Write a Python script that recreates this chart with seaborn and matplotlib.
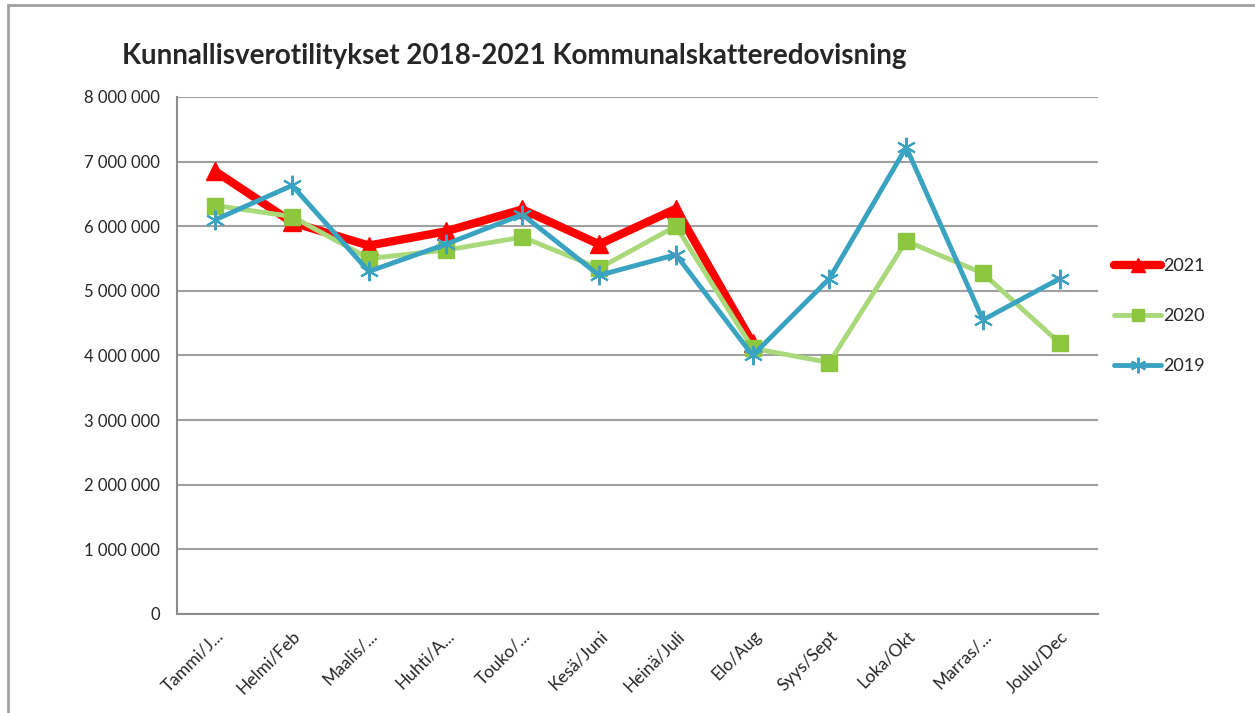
import pandas as pd
import seaborn as sns
import matplotlib.pyplot as plt
from matplotlib.patches import Rectangle
from matplotlib.ticker import FuncFormatter, MultipleLocator

MONTHS = ["Tammi/J...", "Helmi/Feb", "Maalis/...", "Huhti/A...", "Touko/...", "Kesä/Juni",
          "Heinä/Juli", "Elo/Aug", "Syys/Sept", "Loka/Okt", "Marras/...", "Joulu/Dec"]

Y2021 = [6850000, 6060000, 5700000, 5920000, 6260000, 5720000, 6270000, 4190000]
Y2020 = [6320000, 6150000, 5500000, 5630000, 5830000, 5350000, 6000000, 4110000,
         3890000, 5770000, 5270000, 4190000]
Y2019 = [6100000, 6630000, 5300000, 5720000, 6180000, 5240000, 5560000, 4000000,
         5190000, 7220000, 4550000, 5190000]

SERIES = ["2021", "2020", "2019"]

rows = []
for name, vals in zip(SERIES, [Y2021, Y2020, Y2019]):
    for i, v in enumerate(vals):
        rows.append({"month": MONTHS[i], "pos": i, "year": name, "value": v})
df = pd.DataFrame(rows)

sns.set_style("white")
plt.rcParams["font.family"] = ["Lato", "DejaVu Sans"]

fig = plt.figure(figsize=(12.55, 7.13), dpi=100)
ax = fig.add_axes([0.141, 0.139, 0.734, 0.725])

styles = {
    "2021": dict(color="#ff0000", lw=6, marker="^", ms=13, mfc="#ff0000", mec="#ff0000"),
    "2020": dict(color="#a9d97a", lw=3.5, marker="s", ms=11, mfc="#8dc63f", mec="#8dc63f"),
    "2019": dict(color="#3aa3c2", lw=3.5, marker=(6, 2, 0), ms=14, mfc="#3aa3c2", mec="#3aa3c2", mew=1.5),
}
for i, name in enumerate(SERIES):
    s = styles[name]
    sns.lineplot(data=df[df["year"] == name], x="pos", y="value", ax=ax,
                 color=s["color"], linewidth=s["lw"], marker=s["marker"],
                 markersize=s["ms"], markerfacecolor=s["mfc"],
                 markeredgecolor=s["mec"], markeredgewidth=s.get("mew", 1),
                 label=name, zorder=3 + i, errorbar=None)

ax.set_xlim(-0.5, 11.5)
ax.set_ylim(0, 8000000)
ax.yaxis.set_major_locator(MultipleLocator(1000000))
ax.yaxis.set_major_formatter(FuncFormatter(lambda v, p: f"{int(v):,}".replace(",", " ")))
ax.set_xticks(range(12))
ax.set_xticklabels(MONTHS, rotation=45, ha="right", rotation_mode="anchor", fontsize=12.5)
ax.set_xticks([i - 0.5 for i in range(13)], minor=True)
ax.tick_params(axis="x", which="major", length=0, pad=10)
ax.tick_params(axis="x", which="minor", length=6, color="#8c8c8c", width=1.2, direction="out")
ax.tick_params(axis="y", length=6, color="#8c8c8c", width=1.2, direction="out", labelsize=12, pad=6)
ax.set_xlabel("")
ax.set_ylabel("")
ax.grid(axis="y", color="#a0a0a0", lw=1.5)
ax.set_axisbelow(True)
for side in ["top", "right"]:
    ax.spines[side].set_visible(False)
for side in ["left", "bottom"]:
    ax.spines[side].set_color("#8c8c8c")
    ax.spines[side].set_linewidth(1.5)

handles, labels = ax.get_legend_handles_labels()
ax.legend(handles, labels, loc="center left", bbox_to_anchor=(1.0, 0.576),
          frameon=False, fontsize=13, labelspacing=1.9, handlelength=2.6,
          handletextpad=0.1, markerscale=0.8)

fig.text(0.097, 0.922, "Kunnallisverotilitykset 2018-2021 Kommunalskatteredovisning",
         fontsize=20, fontweight="bold", ha="left", va="center")

fig.patches.append(Rectangle((0.006, -0.01), 1.0, 1.003, transform=fig.transFigure,
                             fill=False, edgecolor="#a0a0a0", lw=2))

fig.savefig("out.png", dpi=100)
